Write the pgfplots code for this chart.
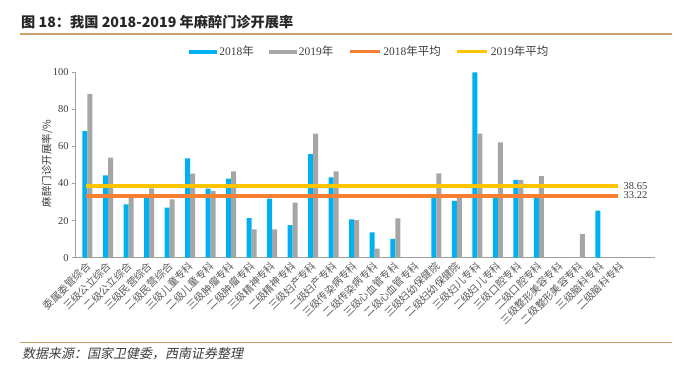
\documentclass[border=0pt]{standalone}
\usepackage{fontspec}
\setmainfont{Liberation Serif}
\newfontfamily\cjk{Noto Sans CJK SC}
\newfontfamily\cjki[FakeSlant=0.2]{Noto Sans CJK SC}
\usepackage{pgfplots}
\pgfplotsset{compat=1.18}
\definecolor{cblue}{RGB}{0,176,240}
\definecolor{cgray}{RGB}{166,166,166}
\definecolor{corange}{RGB}{247,128,48}
\definecolor{cyellow}{RGB}{255,196,0}
\definecolor{rulec}{RGB}{200,160,105}
\definecolor{axgray}{RGB}{160,160,160}
\definecolor{labgray}{RGB}{90,90,90}
\definecolor{txtdark}{RGB}{60,60,60}
\pgfplotsset{
  barleg/.style={legend image code/.code={\fill[##1] (0pt,-2.2pt) rectangle (28pt,2.2pt);}},
  linleg/.style={legend image code/.code={\draw[##1, line width=3pt] (0pt,0pt) -- (30pt,0pt);}},
}
\begin{document}
\begin{tikzpicture}[x=1pt,y=1pt]
\useasboundingbox (0,0) rectangle (690,366);
\node[anchor=west, inner sep=0, text=black!85] at (21,344) {\cjk\bfseries\fontsize{14.2}{16}\selectfont 图 18：我国 2018-2019 年麻醉门诊开展率};
\draw[rulec, line width=1.2pt] (20,332) -- (672,332);
\draw[rulec, line width=1.2pt] (20,23.3) -- (672,23.3);
\node[anchor=west, inner sep=0, text=txtdark] at (22,12) {\cjki\fontsize{13}{15}\selectfont 数据来源：国家卫健委，西南证券整理};
\begin{axis}[
  at={(75.7pt,108.3pt)}, anchor=south west,
  scale only axis, width=579.3pt, height=185.4pt,
  xmin=-0.575, xmax=27.66, ymin=0, ymax=100,
  axis lines=left,
  axis line style={-, draw=axgray, line width=0.8pt},
  ytick={0,20,40,60,80,100},
  y tick style={draw=axgray, line width=0.8pt},
  tick align=outside, major tick length=3.5pt,
  xtick={0,...,26},
  x tick style={draw=none},
  xticklabels={委属委管综合,三级公立综合,二级公立综合,三级民营综合,二级民营综合,三级儿童专科,二级儿童专科,三级肿瘤专科,二级肿瘤专科,三级精神专科,二级精神专科,三级妇产专科,二级妇产专科,三级传染病专科,二级传染病专科,三级心血管专科,二级心血管专科,三级妇幼保健院,二级妇幼保健院,三级妇儿专科,二级妇儿专科,三级口腔专科,二级口腔专科,三级整形美容专科,二级整形美容专科,三级脑科专科,二级脑科专科},
  xticklabel style={rotate=45, anchor=east, font=\cjk\fontsize{10.3}{11}\selectfont, text=labgray, inner sep=1pt, yshift=-3pt},
  yticklabel style={font=\fontsize{10.5}{12}\selectfont, text=txtdark},
  /pgf/number format/assume math mode=true,
  ylabel={麻醉门诊开展率/\%},
  every axis y label/.style={at={(axis description cs:-0.0495,0.508)}, rotate=90, anchor=center, font=\cjk\fontsize{10.5}{12}\selectfont, text=txtdark},
  legend style={at={(axis description cs:0.508,1.111)}, anchor=center, draw=none, legend columns=4,
    font=\fontsize{11.5}{12}\selectfont, text=txtdark,
    /tikz/every even column/.append style={column sep=13pt}},
  legend cell align=left,
  clip=false,
]
\addplot[ybar, bar width=5pt, bar shift=-2.5pt, fill=cblue, draw=none, barleg] coordinates {
(0,68.3) (1,44.4) (2,28.8) (3,32.6) (4,27.0) (5,53.6) (6,37.2) (7,42.6) (8,21.4) (9,31.8)
(10,17.6) (11,55.9) (12,43.3) (13,20.7) (14,13.7) (15,10.1) (17,34.0) (18,30.6) (19,100.0)
(20,34.0) (21,42.0) (22,34.0) (25,25.4)
};
\addlegendentry{2018{\cjk 年}}
\addplot[ybar, bar width=5pt, bar shift=2.5pt, fill=cgray, draw=none, barleg] coordinates {
(0,88.3) (1,54.0) (2,32.9) (3,37.4) (4,31.5) (5,45.3) (6,36.1) (7,46.6) (8,15.3) (9,15.3)
(10,29.7) (11,66.9) (12,46.6) (13,20.3) (14,4.9) (15,21.2) (17,45.5) (18,33.6) (19,66.9)
(20,62.2) (21,42.0) (22,44.0) (24,12.8)
};
\addlegendentry{2019{\cjk 年}}
\addplot[corange, line width=4.5pt, linleg] coordinates {(-0.06,33.22) (25.88,33.22)}
  node[pos=1, anchor=west, inner sep=1pt, xshift=2pt, yshift=0.6pt, text=txtdark, font=\fontsize{10.5}{12}\selectfont] {33.22};
\addlegendentry{2018{\cjk 年平均}}
\addplot[cyellow, line width=4.5pt, linleg] coordinates {(-0.06,38.65) (25.88,38.65)}
  node[pos=1, anchor=west, inner sep=1pt, xshift=2pt, yshift=0pt, text=txtdark, font=\fontsize{10.5}{12}\selectfont] {38.65};
\addlegendentry{2019{\cjk 年平均}}
\end{axis}
\end{tikzpicture}
\end{document}
